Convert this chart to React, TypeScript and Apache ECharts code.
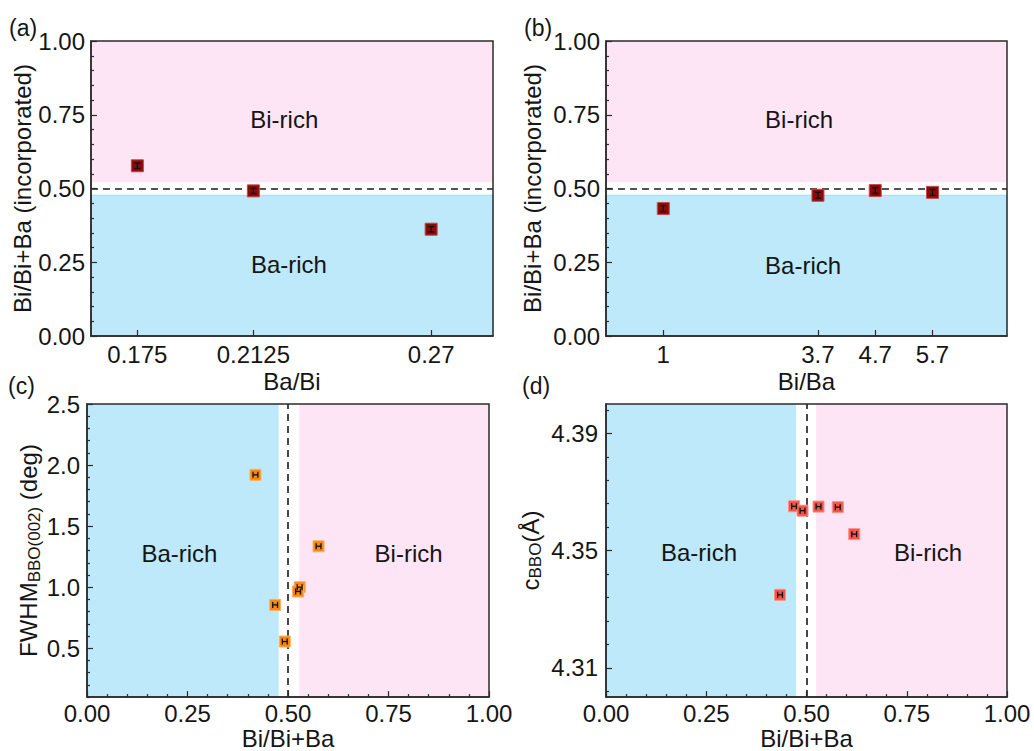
import React, { useEffect, useRef } from "react";
import * as echarts from "echarts";

const FONT = "Arial, 'Liberation Sans', Helvetica, sans-serif";
const TEXT = "#151515";
const AXIS = "#2b2b2b";
const PINK = "#fde5f5";
const BLUE = "#bde9fa";
const BLUE_EDGE = "#9fdcf4";

// ---- Panel (a): Bi fraction vs Ba/Bi ----
const aRatio = [0.175, 0.2125, 0.27];
const aFraction = [0.577, 0.492, 0.362];
const aError = [0.009, 0.009, 0.009];
const aTickValues = [0.175, 0.2125, 0.27];
const aTickLabels = ["0.175", "0.2125", "0.27"];

// ---- Panel (b): Bi fraction vs Bi/Ba ----
const bRatio = [1, 3.7, 4.7, 5.7];
const bFraction = [0.432, 0.477, 0.493, 0.487];
const bError = [0.01, 0.01, 0.01, 0.01];
const bTickValues = [1, 3.7, 4.7, 5.7];
const bTickLabels = ["1", "3.7", "4.7", "5.7"];

// ---- Panel (c): FWHM vs Bi fraction ----
const cFraction = [0.419, 0.576, 0.529, 0.525, 0.468, 0.492];
const cFwhm = [1.92, 1.335, 1.0, 0.965, 0.855, 0.555];
const cError = [0.006, 0.006, 0.006, 0.006, 0.006, 0.006];
const cYTicks = [0.5, 1.0, 1.5, 2.0, 2.5];
const cYMinorTicks = [0.1, 0.2, 0.3, 0.4, 0.6, 0.7, 0.8, 0.9, 1.1, 1.2, 1.3, 1.4, 1.6, 1.7, 1.8, 1.9, 2.1, 2.2, 2.3, 2.4];

// ---- Panel (d): c lattice parameter vs Bi fraction ----
const dFraction = [0.434, 0.469, 0.49, 0.53, 0.578, 0.619];
const dCParam = [4.3349, 4.3651, 4.3636, 4.365, 4.3648, 4.3556];
const dError = [0.006, 0.006, 0.006, 0.006, 0.006, 0.006];
const dYTicks = [4.31, 4.35, 4.39];
const dYMinorTicks = [4.302, 4.318, 4.326, 4.334, 4.342, 4.358, 4.366, 4.374, 4.382, 4.398];

// Region bounds (Ba-rich upper, Bi-rich lower) per panel
const abBaRichMax = 0.477;
const abBiRichMin = 0.521;
const cBaRichMax = 0.477;
const cBiRichMin = 0.528;
const dBaRichMax = 0.474;
const dBiRichMin = 0.524;

// Region annotations
const regionText = ["Bi-rich", "Ba-rich"];
const aTextPos = [[0.2225, 0.735], [0.224, 0.241]];
const bTextPos = [[3.37, 0.735], [3.44, 0.24]];
const cText = ["Ba-rich", "Bi-rich"];
const cTextPos = [[0.23, 1.276], [0.8, 1.276]];
const dTextPos = [[0.232, 4.3492], [0.803, 4.3492]];

const grids = [
  { left: 91, top: 41, width: 402, height: 295 },
  { left: 606, top: 41, width: 401, height: 295 },
  { left: 87, top: 404, width: 402, height: 296 },
  { left: 606, top: 404, width: 401, height: 296 },
];

const lineStyle = { color: AXIS, width: 1.2 };

function baseAxis(gridIndex: number) {
  return {
    type: "value",
    gridIndex,
    z: 10,
    axisLine: { show: true, onZero: false, lineStyle: { color: AXIS, width: 1.5 } },
    axisTick: { show: true, inside: true, length: 6, lineStyle },
    splitLine: { show: false },
    axisLabel: { color: TEXT, fontSize: 24, fontFamily: FONT },
    nameLocation: "middle",
    nameTextStyle: { color: TEXT, fontSize: 24, fontFamily: FONT },
  };
}

function minorAxis(gridIndex: number, min: number, max: number, values: number[]) {
  return {
    type: "value",
    gridIndex,
    position: "left",
    min,
    max,
    z: 10,
    axisLine: { show: false },
    axisLabel: { show: false },
    splitLine: { show: false },
    axisTick: { show: true, inside: true, length: 3, lineStyle, customValues: values },
  };
}

function pickLabel(v: number, values: number[], labels: string[]) {
  let best = 0;
  for (let i = 1; i < values.length; i++) {
    if (Math.abs(values[i] - v) < Math.abs(values[best] - v)) best = i;
  }
  return labels[best];
}

function regionSeries(xi: number, yi: number, horizontal: boolean, baMax: number, biMin: number) {
  return {
    type: "scatter",
    xAxisIndex: xi,
    yAxisIndex: yi,
    data: [],
    silent: true,
    z: 1,
    markArea: {
      silent: true,
      data: horizontal
        ? [
            [{ yAxis: biMin, itemStyle: { color: PINK } }, { yAxis: 1 }],
            [{ yAxis: 0, itemStyle: { color: BLUE, borderColor: BLUE_EDGE, borderWidth: 1 } }, { yAxis: baMax }],
          ]
        : [
            [{ xAxis: 0, itemStyle: { color: BLUE } }, { xAxis: baMax }],
            [{ xAxis: biMin, itemStyle: { color: PINK } }, { xAxis: 1 }],
          ],
    },
    markLine: {
      silent: true,
      symbol: "none",
      label: { show: false },
      lineStyle: { color: "#1a1a1a", width: 1.6, type: [7, 5] },
      data: [horizontal ? { yAxis: 0.5 } : { xAxis: 0.5 }],
    },
  };
}

function pointSeries(xi: number, yi: number, xs: number[], ys: number[], color: string, border: string, size: number) {
  return {
    type: "scatter",
    xAxisIndex: xi,
    yAxisIndex: yi,
    z: 6,
    symbol: "rect",
    symbolSize: size,
    itemStyle: { color, borderColor: border, borderWidth: 1, opacity: 1 },
    data: xs.map((x, i) => [x, ys[i]]),
  };
}

function errorSeries(xi: number, yi: number, xs: number[], ys: number[], errs: number[], vertical: boolean) {
  return {
    type: "custom",
    xAxisIndex: xi,
    yAxisIndex: yi,
    z: 7,
    silent: true,
    encode: { x: 0, y: 1 },
    data: xs.map((x, i) => [x, ys[i], errs[i]]),
    renderItem: (_p: any, api: any) => {
      const x = api.value(0);
      const y = api.value(1);
      const e = api.value(2);
      const lo = vertical ? api.coord([x, y - e]) : api.coord([x - e, y]);
      const hi = vertical ? api.coord([x, y + e]) : api.coord([x + e, y]);
      const w = 3;
      const style = { stroke: "#111", lineWidth: 1.3 };
      const caps = vertical
        ? [
            { type: "line", shape: { x1: lo[0] - w, y1: lo[1], x2: lo[0] + w, y2: lo[1] }, style },
            { type: "line", shape: { x1: hi[0] - w, y1: hi[1], x2: hi[0] + w, y2: hi[1] }, style },
          ]
        : [
            { type: "line", shape: { x1: lo[0], y1: lo[1] - w, x2: lo[0], y2: lo[1] + w }, style },
            { type: "line", shape: { x1: hi[0], y1: hi[1] - w, x2: hi[0], y2: hi[1] + w }, style },
          ];
      return {
        type: "group",
        children: [
          { type: "line", shape: { x1: lo[0], y1: lo[1], x2: hi[0], y2: hi[1] }, style },
          ...caps,
        ],
      };
    },
  };
}

function textSeries(xi: number, yi: number, pos: number[][], texts: string[]) {
  return {
    type: "custom",
    xAxisIndex: xi,
    yAxisIndex: yi,
    z: 4,
    silent: true,
    encode: { x: 0, y: 1 },
    data: pos.map((p) => [p[0], p[1]]),
    renderItem: (params: any, api: any) => {
      const pt = api.coord([api.value(0), api.value(1)]);
      return {
        type: "text",
        x: pt[0],
        y: pt[1],
        style: {
          text: texts[params.dataIndex],
          fill: TEXT,
          font: `24px ${FONT}`,
          align: "center",
          verticalAlign: "middle",
        },
      };
    },
  };
}

const subRich = {
  m: { fontSize: 24, lineHeight: 26, verticalAlign: "top", fontFamily: FONT, color: TEXT },
  s: { fontSize: 17, lineHeight: 17, verticalAlign: "bottom", padding: [16, 0, 0, 0], fontFamily: FONT, color: TEXT },
};

function buildOption() {
  const base0 = baseAxis(0);
  const base1 = baseAxis(1);
  const base2 = baseAxis(2);
  const base3 = baseAxis(3);
  const fracLabel = (v: number) => v.toFixed(2);

  const xAxis = [
    {
      ...base0,
      min: 0.16,
      max: 0.29,
      name: "Ba/Bi",
      nameGap: 33,
      axisTick: { ...base0.axisTick, customValues: aTickValues },
      axisLabel: { ...base0.axisLabel, margin: 6, customValues: aTickValues, formatter: (v: number) => pickLabel(v, aTickValues, aTickLabels) },
    },
    {
      ...base1,
      min: 0,
      max: 7,
      name: "Bi/Ba",
      nameGap: 33,
      axisTick: { ...base1.axisTick, customValues: bTickValues },
      axisLabel: { ...base1.axisLabel, margin: 6, customValues: bTickValues, formatter: (v: number) => pickLabel(v, bTickValues, bTickLabels) },
    },
    {
      ...base2,
      min: 0,
      max: 1,
      interval: 0.25,
      name: "Bi/Bi+Ba",
      nameGap: 26,
      minorTick: { show: true, splitNumber: 5, length: 3, lineStyle },
      axisLabel: { ...base2.axisLabel, margin: 4, formatter: fracLabel },
    },
    {
      ...base3,
      min: 0,
      max: 1,
      interval: 0.25,
      name: "Bi/Bi+Ba",
      nameGap: 26,
      minorTick: { show: true, splitNumber: 5, length: 3, lineStyle },
      axisLabel: { ...base3.axisLabel, margin: 4, formatter: fracLabel },
    },
  ];

  const yAxis = [
    {
      ...base0,
      position: "left",
      min: 0,
      max: 1,
      interval: 0.25,
      name: "Bi/Bi+Ba (incorporated)",
      nameGap: 57,
      minorTick: { show: true, splitNumber: 5, length: 3, lineStyle },
      axisLabel: { ...base0.axisLabel, margin: 6, formatter: fracLabel },
    },
    {
      ...base1,
      position: "left",
      min: 0,
      max: 1,
      interval: 0.25,
      name: "Bi/Bi+Ba (incorporated)",
      nameGap: 62,
      minorTick: { show: true, splitNumber: 5, length: 3, lineStyle },
      axisLabel: { ...base1.axisLabel, margin: 6, formatter: fracLabel },
    },
    {
      ...base2,
      position: "left",
      min: 0.1,
      max: 2.5,
      name: "{m|FWHM}{s|BBO(002)}{m| (deg)}",
      nameGap: 36,
      nameTextStyle: { color: TEXT, fontFamily: FONT, rich: subRich },
      axisTick: { ...base2.axisTick, customValues: cYTicks },
      axisLabel: { ...base2.axisLabel, margin: 7, customValues: cYTicks, formatter: (v: number) => v.toFixed(1) },
    },
    {
      ...base3,
      position: "left",
      min: 4.3,
      max: 4.4,
      name: "{m|c}{s|BBO}{m|(Å)}",
      nameGap: 62,
      nameTextStyle: { color: TEXT, fontFamily: FONT, rich: subRich },
      axisTick: { ...base3.axisTick, customValues: dYTicks },
      axisLabel: { ...base3.axisLabel, margin: 8, customValues: dYTicks, formatter: (v: number) => v.toFixed(2) },
    },
    minorAxis(2, 0.1, 2.5, cYMinorTicks),
    minorAxis(3, 4.3, 4.4, dYMinorTicks),
  ];

  const series = [
    regionSeries(0, 0, true, abBaRichMax, abBiRichMin),
    textSeries(0, 0, aTextPos, regionText),
    pointSeries(0, 0, aRatio, aFraction, "#8b0a0a", "#c44a4a", 12),
    errorSeries(0, 0, aRatio, aFraction, aError, true),

    regionSeries(1, 1, true, abBaRichMax, abBiRichMin),
    textSeries(1, 1, bTextPos, regionText),
    pointSeries(1, 1, bRatio, bFraction, "#8b0a0a", "#c44a4a", 12),
    errorSeries(1, 1, bRatio, bFraction, bError, true),

    regionSeries(2, 2, false, cBaRichMax, cBiRichMin),
    textSeries(2, 2, cTextPos, cText),
    pointSeries(2, 2, cFraction, cFwhm, "#f7870f", "#ffb060", 11),
    errorSeries(2, 2, cFraction, cFwhm, cError, false),

    regionSeries(3, 3, false, dBaRichMax, dBiRichMin),
    textSeries(3, 3, dTextPos, cText),
    pointSeries(3, 3, dFraction, dCParam, "#f2534a", "#ff9088", 11),
    errorSeries(3, 3, dFraction, dCParam, dError, false),
  ];

  const panelLabel = (text: string, left: number, top: number) => ({
    type: "text",
    left,
    top,
    z: 20,
    style: { text, fill: TEXT, font: `23px ${FONT}` },
  });

  return {
    animation: false,
    backgroundColor: "#ffffff",
    grid: grids.map((g) => ({ ...g, show: true, z: 10, backgroundColor: "transparent", borderColor: AXIS, borderWidth: 1.5 })),
    xAxis,
    yAxis,
    series,
    graphic: [
      panelLabel("(a)", 9, 16),
      panelLabel("(b)", 524, 16),
      panelLabel("(c)", 8, 374),
      panelLabel("(d)", 522, 374),
    ],
  };
}

export default function App() {
  const ref = useRef<HTMLDivElement>(null);
  useEffect(() => {
    if (!ref.current) return;
    const chart = echarts.init(ref.current, undefined, { renderer: "svg" });
    chart.setOption(buildOption() as any);
    return () => chart.dispose();
  }, []);
  return (
    <div
      ref={ref}
      style={{ position: "fixed", left: 0, top: 0, width: 1034, height: 751, background: "#fff" }}
    />
  );
}
